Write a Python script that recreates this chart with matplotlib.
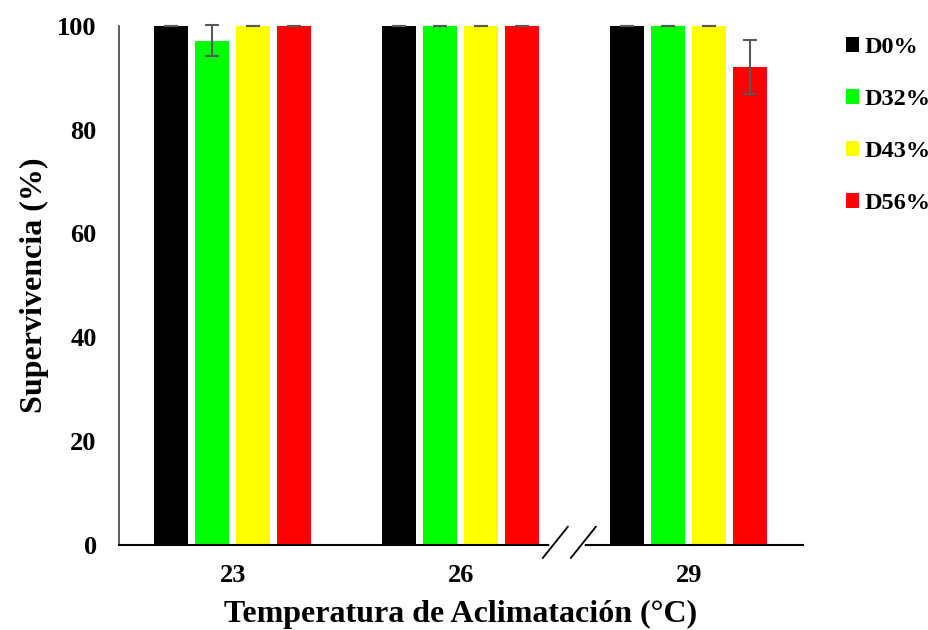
import matplotlib.pyplot as plt
import numpy as np

temps = ['23', '26', '29']
series = ['D0%', 'D32%', 'D43%', 'D56%']
d0 = [100, 100, 100]
d32 = [97.1, 100, 100]
d43 = [100, 100, 100]
d56 = [100, 100, 92.1]
d0_err = [0, 0, 0]
d32_err = [3.0, 0, 0]
d43_err = [0, 0, 0]
d56_err = [0, 0, 5.2]
colores = ['#000000', '#00ff00', '#ffff00', '#ff0000']

plt.rcParams['font.family'] = ['Liberation Serif', 'DejaVu Serif']
plt.rcParams['font.weight'] = 'bold'

fig = plt.figure(figsize=(9.29, 6.3), dpi=100)
ax = fig.add_axes([0.128, 0.135, 0.736, 0.824])

x = np.arange(len(temps))
ancho = 0.149
paso = 0.18
valores = [d0, d32, d43, d56]
errores = [d0_err, d32_err, d43_err, d56_err]
for i in range(4):
    pos = x + (i - 1.5) * paso
    ax.bar(pos, valores[i], ancho, color=colores[i], label=series[i], zorder=2)
    eb = ax.errorbar(pos, valores[i], yerr=errores[i], fmt='none', ecolor='#595959',
                     elinewidth=1.5, capsize=4.7, capthick=1.5, zorder=3)
    for art in eb.lines[1] + eb.lines[2]:
        art.set_clip_on(False)

ax.set_xlim(-0.5, 2.5)
ax.set_ylim(0, 100)
ax.set_yticks([0, 20, 40, 60, 80, 100])
ax.set_xticks(x)
ax.set_xticklabels(temps)
ax.tick_params(length=0, labelsize=19, pad=14)
ax.tick_params(axis='y', pad=16)
for s in ['top', 'right']:
    ax.spines[s].set_visible(False)
ax.spines['left'].set_color('#404040')
ax.spines['left'].set_linewidth(1.2)
ax.spines['bottom'].set_linewidth(1.5)

ax.set_xlabel('Temperatura de Aclimatación (°C)', fontsize=23, fontweight='bold', labelpad=9)
ax.set_ylabel('Supervivencia (%)', fontsize=23, fontweight='bold', labelpad=6)

# corte del eje
ax.plot([0.633, 0.678], [0, 0], transform=ax.transAxes, color='white', lw=4, clip_on=False, zorder=4)
ax.plot([0.620, 0.6565], [-0.025, 0.035], transform=ax.transAxes, color='black', lw=1.3, clip_on=False, zorder=5)
ax.plot([0.661, 0.6975], [-0.025, 0.035], transform=ax.transAxes, color='black', lw=1.3, clip_on=False, zorder=5)

h, l = ax.get_legend_handles_labels()
leg = fig.legend(h, l, loc='upper left', bbox_to_anchor=(0.887, 0.976), frameon=False,
                 prop={'size': 17.5, 'weight': 'bold'}, handlelength=0.55, handleheight=0.55,
                 handletextpad=0.2, labelspacing=1.28)

fig.savefig('out.png', dpi=100)
